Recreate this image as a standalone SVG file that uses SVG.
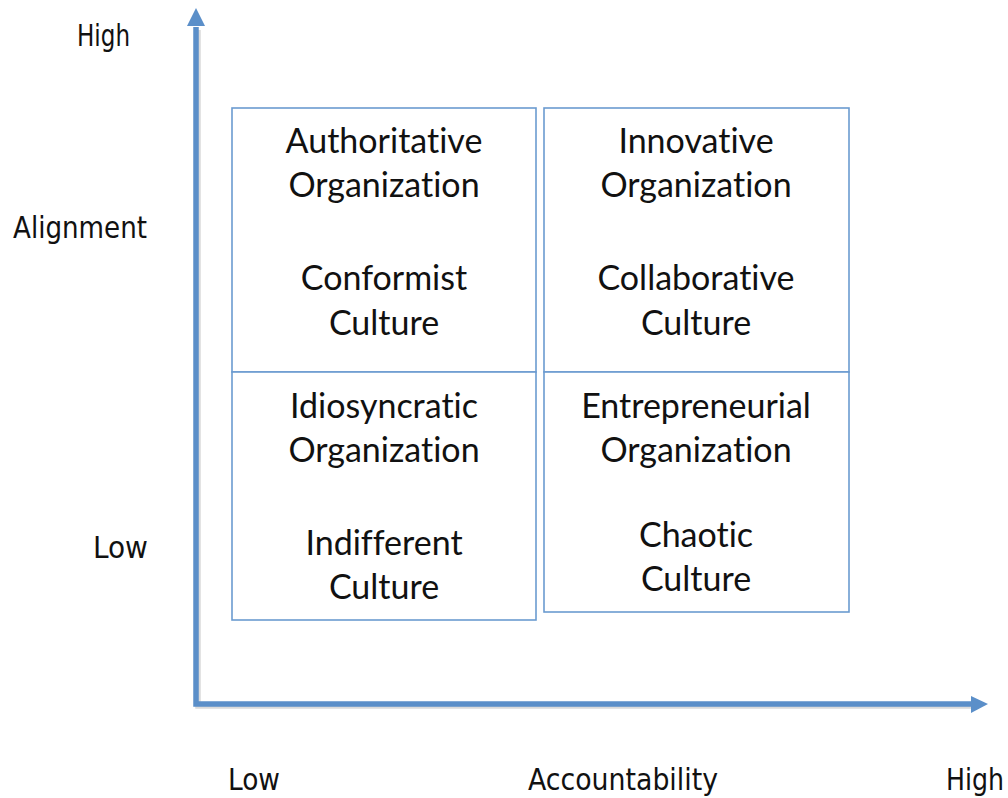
<svg xmlns="http://www.w3.org/2000/svg" width="1008" height="798" viewBox="0 0 1008 798">
<style>
.box{fill:#fff;stroke:#6b9bd0;stroke-width:1.6}
.t{font-family:Lato,"Open Sans",sans-serif;font-size:34px;fill:#111;text-anchor:middle;font-variant-ligatures:none}
.h{font-family:"Liberation Sans Narrow","DejaVu Sans Condensed",sans-serif;font-size:30px;fill:#111}
.ax{stroke:#5b8fc9;stroke-width:5.5;fill:none}
.axs{stroke:#999;stroke-width:5.5;fill:none;opacity:0.35}
</style>
<g id="axes">
<path class="axs" d="M198,30 L198,706 L972,706"/>
<path class="ax" d="M196,27 L196,704 L972,704"/>
<path d="M187,26 L196,8 L205,26 z" fill="#5b8fc9"/>
<path d="M971,696 L988,704 L971,713 z" fill="#5b8fc9"/>
</g>
<g id="q1">
<rect class="box" x="232" y="108" width="304" height="264"/>
<text class="t" x="384" y="153">Authoritative</text>
<text class="t" x="384" y="197">Organization</text>
<text class="t" x="384" y="290">Conformist</text>
<text class="t" x="384" y="335">Culture</text>
</g>
<g id="q2">
<rect class="box" x="544" y="108" width="305" height="264"/>
<text class="t" x="696" y="153">Innovative</text>
<text class="t" x="696" y="197">Organization</text>
<text class="t" x="696" y="290">Collaborative</text>
<text class="t" x="696" y="335">Culture</text>
</g>
<g id="q3">
<rect class="box" x="232" y="372" width="304" height="248"/>
<text class="t" x="384" y="418">Idiosyncratic</text>
<text class="t" x="384" y="462">Organization</text>
<text class="t" x="384" y="555">Indifferent</text>
<text class="t" x="384" y="599">Culture</text>
</g>
<g id="q4">
<rect class="box" x="544" y="372" width="305" height="240"/>
<text class="t" x="696" y="418">Entrepreneurial</text>
<text class="t" x="696" y="462">Organization</text>
<text class="t" x="696" y="547">Chaotic</text>
<text class="t" x="696" y="591">Culture</text>
</g>
<g id="labels">
<text class="h" x="77" y="46" textLength="53" lengthAdjust="spacingAndGlyphs">High</text>
<text class="h" x="13" y="238" textLength="134" lengthAdjust="spacingAndGlyphs">Alignment</text>
<text class="h" x="93" y="558" textLength="55" lengthAdjust="spacingAndGlyphs">Low</text>
<text class="h" x="228" y="790" textLength="52" lengthAdjust="spacingAndGlyphs">Low</text>
<text class="h" x="528" y="790" textLength="190" lengthAdjust="spacingAndGlyphs">Accountability</text>
<text class="h" x="946" y="790" textLength="58" lengthAdjust="spacingAndGlyphs">High</text>
</g>
</svg>
